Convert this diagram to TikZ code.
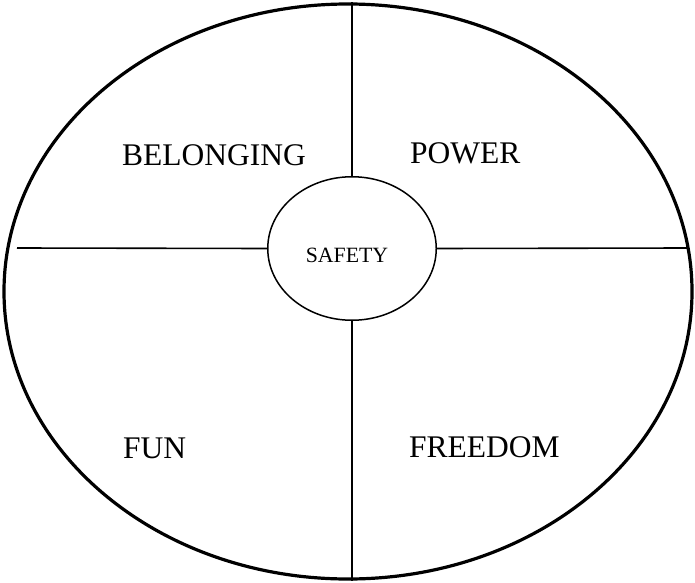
\documentclass[tikz,border=0pt]{standalone}
\usepackage{fontspec}
\setmainfont{Liberation Serif}
\usetikzlibrary{shapes.geometric}

\begin{document}
\begin{tikzpicture}[
    x=1pt, y=1pt,
    font=\fontsize{31.5}{36}\selectfont,
    rim/.style={
        ellipse,
        draw,
        line width=3.2pt,
        minimum width=688pt,
        minimum height=575pt,
        inner sep=0pt
    },
    hub/.style={
        ellipse,
        draw,
        line width=1.5pt,
        minimum width=168.5pt,
        minimum height=143.5pt,
        inner sep=0pt
    },
    need/.style={
        anchor=base west,
        inner sep=0pt
    },
    spoke/.style={
        line width=1.6pt
    }
]
\useasboundingbox (0,0) rectangle (695,582);

\node[rim] (wheel) at (348,290.5) {};
\node[hub] (safety) at (352,333.5) {};
\node[font=\fontsize{21.8}{24}\selectfont] (safetylbl) at (347,327) {SAFETY};

\coordinate (armW) at (17,334);
\coordinate (armE) at (688,334);

\draw[spoke, line width=2pt] (safety.north) -- (safety.north |- wheel.north);
\draw[spoke, line width=2pt] (safety.south) -- (safety.south |- wheel.south);
\draw[spoke] (armW) -- (safety.west);
\draw[spoke] (safety.east) -- (armE);

\node[need] (belonging) at (122,417) {BELONGING};
\node[need] (power) at (410,418) {POWER};
\node[need] (fun) at (123,124) {FUN};
\node[need] (freedom) at (409,125) {FREEDOM};

\end{tikzpicture}
\end{document}
